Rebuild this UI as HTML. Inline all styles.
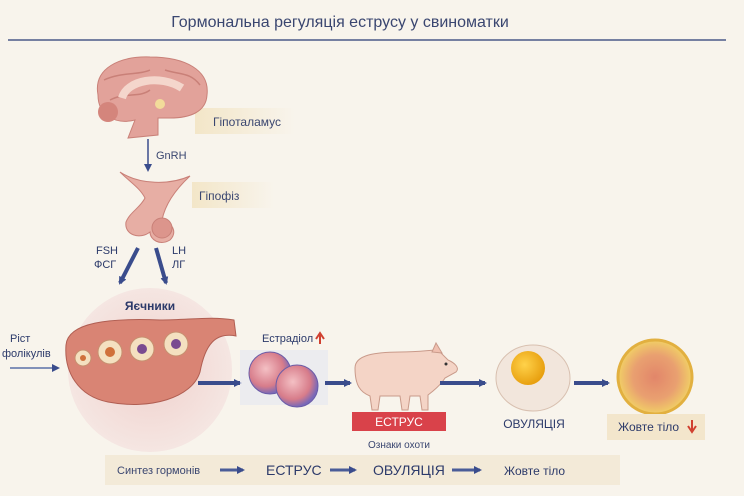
<!DOCTYPE html>
<html><head><meta charset="utf-8"><style>
body{margin:0;background:#f8f4ec;}
svg{display:block;font-family:"Liberation Sans",sans-serif;}
</style></head><body>
<svg width="744" height="496" viewBox="0 0 744 496">
<defs>
<radialGradient id="ov" cx="0.5" cy="0.5" r="0.5"><stop offset="0" stop-color="#f0d0cc"/><stop offset="1" stop-color="#f5e6e2"/></radialGradient>
<linearGradient id="band" x1="0" x2="1"><stop offset="0" stop-color="#f3e6c8"/><stop offset="1" stop-color="#f8f4ec"/></linearGradient>
<radialGradient id="cell" cx="0.4" cy="0.4" r="0.6"><stop offset="0" stop-color="#f4c0c4"/><stop offset="0.7" stop-color="#d77c8a"/><stop offset="1" stop-color="#7868b8"/></radialGradient>
<radialGradient id="yolk" cx="0.4" cy="0.4" r="0.6"><stop offset="0" stop-color="#ffd24a"/><stop offset="1" stop-color="#e8a010"/></radialGradient>
<radialGradient id="cl" cx="0.5" cy="0.5" r="0.5"><stop offset="0" stop-color="#e2866a"/><stop offset="0.6" stop-color="#e9a070"/><stop offset="1" stop-color="#f1cf66"/></radialGradient>
<marker id="ah" markerWidth="8" markerHeight="8" refX="6" refY="4" orient="auto" markerUnits="userSpaceOnUse"><path d="M0,0 L8,4 L0,8 z" fill="#3a4c8c"/></marker>
</defs>
<text x="340" y="27" text-anchor="middle" font-size="16" fill="#3a4670">Гормональна регуляція еструсу у свиноматки</text>
<line x1="8" y1="40" x2="726" y2="40" stroke="#4a5a88" stroke-width="1.5"/>
<!-- brain -->
<rect x="195" y="108" width="100" height="26" fill="url(#band)"/>
<path d="M98,95 C93,68 120,56 150,57 C185,57 210,70 207,95 C206,112 190,118 170,118 L158,118 L158,135 L128,138 L135,120 C115,125 98,115 98,95z" fill="#e2a29a" stroke="#c98078"/>
<path d="M104,80 C120,72 140,75 150,70 M110,100 C125,92 140,98 150,90 M165,70 C180,75 190,72 200,85" stroke="#c98078" stroke-width="1.5" fill="none"/>
<path d="M122,98 C127,80 160,74 182,88" stroke="#f4d6cc" stroke-width="8" fill="none"/>
<circle cx="108" cy="112" r="10" fill="#d4857c"/>
<circle cx="160" cy="104" r="5" fill="#f2dc9a"/>
<text x="213" y="126" font-size="12" fill="#3a4670">Гіпоталамус</text>
<line x1="148" y1="139" x2="148" y2="170" stroke="#3a4c8c" stroke-width="1.5" marker-end="url(#ah)"/>
<text x="156" y="159" font-size="11" fill="#3a4670">GnRH</text>
<!-- pituitary -->
<rect x="192" y="182" width="82" height="26" fill="url(#band)"/>
<path d="M120,172 C140,185 170,185 190,176 C175,190 165,205 162,220 C172,222 178,232 170,240 C160,246 150,240 150,232 C140,240 124,235 126,222 C130,212 140,208 145,198 C140,188 130,182 120,172z" fill="#e7aea4" stroke="#c98078"/>
<circle cx="162" cy="228" r="10" fill="#dc958c" stroke="#c98078"/>
<text x="199" y="200" font-size="12" fill="#3a4670">Гіпофіз</text>
<text x="96" y="254" font-size="11" fill="#2c3a6a">FSH</text>
<text x="94" y="268" font-size="11" fill="#2c3a6a">ФСГ</text>
<text x="172" y="254" font-size="11" fill="#2c3a6a">LH</text>
<text x="172" y="268" font-size="11" fill="#2c3a6a">ЛГ</text>
<line x1="138" y1="248" x2="120" y2="283" stroke="#3a4c8c" stroke-width="4" marker-end="url(#ah)"/>
<line x1="156" y1="248" x2="166" y2="283" stroke="#3a4c8c" stroke-width="4" marker-end="url(#ah)"/>
<!-- ovary -->
<circle cx="150" cy="370" r="82" fill="url(#ov)"/>
<text x="150" y="310" text-anchor="middle" font-size="12" font-weight="bold" fill="#2c3a6a">Яєчники</text>
<path d="M66,345 C68,322 110,318 160,320 C190,320 210,316 234,320 L236,336 C215,332 205,345 200,372 C192,398 150,410 108,402 C78,396 64,372 66,345z" fill="#d98474" stroke="#b05e52"/>
<circle cx="83" cy="358" r="8" fill="#f4e0c0" stroke="#c79070"/><circle cx="83" cy="358" r="3" fill="#d0703a"/>
<circle cx="110" cy="352" r="12" fill="#f4e0c0" stroke="#c79070"/><circle cx="110" cy="352" r="5" fill="#d0703a"/>
<circle cx="142" cy="349" r="12" fill="#f4e0c0" stroke="#c79070"/><circle cx="142" cy="349" r="5" fill="#7a4a90"/>
<circle cx="176" cy="344" r="12" fill="#f4e0c0" stroke="#c79070"/><circle cx="176" cy="344" r="5" fill="#7a4a90"/>
<text x="10" y="342" font-size="11" fill="#2c3a6a">Ріст</text>
<text x="2" y="357" font-size="11" fill="#2c3a6a">фолікулів</text>
<line x1="10" y1="368" x2="58" y2="368" stroke="#5a70a8" stroke-width="1.5" marker-end="url(#ah)"/>
<line x1="198" y1="383" x2="240" y2="383" stroke="#3a4c8c" stroke-width="4" marker-end="url(#ah)"/>
<!-- estradiol -->
<text x="262" y="342" font-size="11" fill="#2c3a6a">Естрадіол</text>
<path d="M320,344 L320,335 M316,339 L320,333 L324,339" stroke="#d04030" stroke-width="2" fill="none"/>
<rect x="240" y="350" width="88" height="55" fill="#e4e6f2" opacity="0.6"/>
<circle cx="270" cy="373" r="21" fill="url(#cell)" stroke="#6a5ca8"/>
<circle cx="297" cy="386" r="21" fill="url(#cell)" stroke="#6a5ca8"/>
<line x1="325" y1="383" x2="350" y2="383" stroke="#3a4c8c" stroke-width="4" marker-end="url(#ah)"/>
<!-- pig -->
<path d="M355,368 C355,355 375,352 400,352 C420,352 430,350 438,350 L448,360 C455,363 460,368 456,372 L445,378 C440,386 432,392 428,395 L428,410 L422,410 L420,396 L410,396 L408,410 L402,410 L400,396 L380,396 L378,410 L372,410 L370,396 C360,392 355,385 355,368z" fill="#f4d4c6" stroke="#c99a8a"/>
<path d="M432,352 L436,343 L442,353z" fill="#f0c0b0" stroke="#c99a8a"/>
<circle cx="446" cy="364" r="1.5" fill="#333"/>
<rect x="352" y="412" width="94" height="19" fill="#d9424a"/>
<text x="399" y="426" text-anchor="middle" font-size="12" fill="#fff">ЕСТРУС</text>
<text x="399" y="448" text-anchor="middle" font-size="10" fill="#3a4670">Ознаки охоти</text>
<line x1="440" y1="383" x2="485" y2="383" stroke="#3a4c8c" stroke-width="4" marker-end="url(#ah)"/>
<!-- ovulation -->
<ellipse cx="533" cy="378" rx="37" ry="33" fill="#f2e6dc" stroke="#d8c0b0"/>
<circle cx="528" cy="368" r="17" fill="url(#yolk)"/>
<text x="534" y="428" text-anchor="middle" font-size="12" fill="#2c3a6a">ОВУЛЯЦІЯ</text>
<line x1="574" y1="383" x2="608" y2="383" stroke="#3a4c8c" stroke-width="4" marker-end="url(#ah)"/>
<!-- corpus luteum -->
<circle cx="655" cy="377" r="37" fill="url(#cl)" stroke="#e2b040" stroke-width="3"/>
<rect x="607" y="414" width="98" height="26" fill="#f3e6cc"/>
<text x="618" y="431" font-size="12" fill="#2c3a6a">Жовте тіло</text>
<path d="M692,420 L692,430 M688,426 L692,432 L696,426" stroke="#d04030" stroke-width="2" fill="none"/>
<!-- bottom band -->
<rect x="105" y="455" width="515" height="30" fill="#f3ead8"/>
<text x="117" y="474" font-size="11" fill="#3a4670">Синтез гормонів</text>
<line x1="220" y1="470" x2="243" y2="470" stroke="#4a5c98" stroke-width="3" marker-end="url(#ah)"/>
<text x="266" y="475" font-size="14" fill="#2c3a6a">ЕСТРУС</text>
<line x1="330" y1="470" x2="355" y2="470" stroke="#4a5c98" stroke-width="3" marker-end="url(#ah)"/>
<text x="373" y="475" font-size="14" fill="#2c3a6a">ОВУЛЯЦІЯ</text>
<line x1="452" y1="470" x2="480" y2="470" stroke="#4a5c98" stroke-width="3" marker-end="url(#ah)"/>
<text x="504" y="475" font-size="12" fill="#2c3a6a">Жовте тіло</text>
</svg>
</body></html>
